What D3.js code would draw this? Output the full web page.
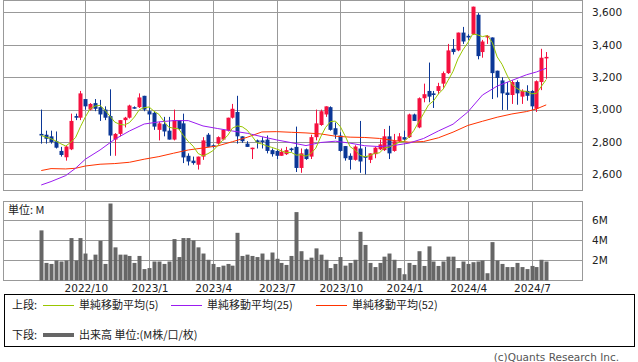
<!DOCTYPE html>
<html>
<head>
<meta charset="utf-8">
<script src="https://cdn.jsdelivr.net/npm/d3@7"></script>
<style>
	body{margin:0;background:#fff;}
	svg{display:block;}
	text{font-family:'DejaVu Sans',sans-serif;}
	.jp{font-family:'Noto Sans CJK JP',sans-serif;}
</style>
</head>
<body>
<script>
// weekly candles, index 0 = first week shown
var open  = [2850,2845,2835,2805,2745,2706,2755,2960,2950,3065,3000,3040,3015,3000,2960,2815,2850,2935,2950,3015,
			 3015,3085,2990,2980,2875,2910,2870,2815,2935,2915,2715,2685,2660,2710,2845,2780,2790,2815,2870,2950,
			 2985,2835,2790,2760,2810,2810,2815,2750,2745,2715,2725,2760,2770,2640,2755,2710,2830,2905,2970,3015,
			 2885,2840,2775,2715,2690,2760,2712,2690,2725,2755,2750,2835,2745,2805,2830,2830,2970,2890,3070,3115,
			 3100,3115,3160,3225,3375,3365,3475,3455,3465,3585,3355,3445,3445,3240,3180,3105,3090,3170,3080,3115,
			 3115,3005,3170,3320];
var high  = [3000,2870,2870,2865,2770,2775,2975,2975,3115,3065,3040,3065,3060,3020,3125,2855,2935,2955,3030,3020,
			 3100,3085,3015,2990,2925,2955,2955,3000,2935,2975,2730,2710,2710,2830,2855,2785,2835,2875,2950,3035,
			 3085,2835,2805,2765,2815,2830,2840,2760,2750,2760,2770,2765,2895,2760,2760,2845,3000,3000,3020,3020,
			 2920,2860,2775,2730,2780,2930,2770,2730,2770,2815,2880,2900,2850,2855,2870,2975,2975,3075,3160,3290,
			 3115,3165,3235,3405,3435,3475,3510,3465,3635,3595,3430,3460,3445,3240,3200,3170,3180,3180,3125,3150,
			 3120,3180,3375,3355];
var low   = [2790,2790,2790,2760,2710,2685,2750,2935,2935,3000,2995,2990,2930,2935,2715,2715,2835,2890,2945,3005,
			 3010,2990,2935,2875,2810,2835,2815,2810,2875,2670,2655,2660,2630,2690,2770,2765,2785,2810,2865,2945,
			 2790,2795,2770,2695,2760,2760,2730,2710,2695,2715,2720,2740,2615,2610,2690,2695,2810,2900,2955,2870,
			 2820,2740,2685,2630,2685,2610,2600,2670,2700,2750,2745,2695,2740,2800,2810,2825,2930,2885,3045,3045,
			 3010,3095,3135,3220,3340,3360,3405,3430,3460,3310,3320,3405,3065,3075,2998,2998,3035,3030,3035,3055,
			 2995,2985,3120,3190];
var close = [2840,2820,2800,2765,2720,2772,2930,2950,3100,3020,3035,3005,2970,2950,2840,2850,2935,2950,3025,3010,
			 3075,3000,2970,2895,2915,2865,2815,2935,2880,2705,2680,2670,2710,2810,2770,2770,2830,2875,2950,3005,
			 2835,2805,2770,2765,2800,2800,2745,2725,2715,2740,2750,2750,2640,2730,2695,2830,2915,2990,3020,2875,
			 2845,2745,2700,2690,2772,2680,2705,2730,2765,2785,2835,2730,2805,2835,2815,2970,2930,3070,3095,3080,
			 3090,3145,3225,3365,3355,3475,3420,3445,3635,3330,3420,3455,3225,3195,3100,3090,3170,3100,3115,3085,
			 3020,3175,3320,3325];
// volume, millions
var volume = [4.96,1.74,1.64,1.98,1.88,1.98,4.2,1.98,4.2,2.67,2.05,2.56,3.93,1.64,7.62,3.28,2.56,2.56,2.43,1.74,
			  2.43,1.13,1.23,1.88,1.88,1.64,1.88,4.1,2.32,4.2,4.2,3.97,3.28,2.67,2.05,1.64,1.33,1.47,1.64,1.47,
			  4.72,2.43,2.56,2.43,2.32,2.67,2.05,2.77,2.15,1.74,1.54,2.43,6.77,2.9,2.05,2.26,3.18,2.56,2.05,1.23,
			  1.64,2.32,1.47,1.74,2.05,4.82,3.52,1.74,1.33,1.74,2.36,2.67,2.05,1.23,0.62,1.74,1.54,2.9,1.44,3.38,
			  1.88,1.44,1.88,2.36,2.36,1.23,1.88,1.64,1.81,1.88,1.98,0.72,3.8,1.98,1.64,1.33,1.33,1.74,1.33,1.13,
			  1.44,1.33,2.05,1.88];
// moving averages at these weeks
var maIndex = [0,2,5,7,9,12,15,18,21,24,27,30,33,36,39,42,45,48,51,54,57,60,63,66,69,72,75,78,81,84,87,90,93,96,99,101,103];
var ma25 = [2535,2556,2593,2638,2694,2751,2817,2868,2911,2924,2932,2932,2899,2883,2868,2854,2833,2813,2796,2778,2797,2805,2793,2777,2772,2779,2793,2822,2868,2910,2985,3090,3145,3180,3215,3232,3255];
var ma52 = [2624,2636,2634,2638,2652,2663,2667,2675,2694,2710,2731,2751,2763,2776,2802,2829,2862,2864,2860,2856,2850,2836,2830,2828,2822,2809,2799,2803,2826,2861,2902,2928,2953,2973,2988,3004,3029];

var tickLabels = ['2022/10','2023/1','2023/4','2023/7','2023/10','2024/1','2024/4','2024/7'];
var tickIndex = [9,22,35,48,61,74,87,100];
var priceTicks = [2600,2800,3000,3200,3400,3600];
var volTicks = [2,4,6];

var width = 638, height = 362;
var left = 3, right = 582;
var gridColor = '#999';
var upColor = '#f5103f', downColor = '#0b3796';

var svg = d3.select('body').append('svg')
			.attr('width',width)
			.attr('height',height);

var x = d3.scaleLinear().domain([-7.8,110.3]).range([left,right]);
var y = d3.scaleLinear().domain([2504,3676]).range([190,0]);
var yv = d3.scaleLinear().domain([0,7.8]).range([280.5,201.7]);

// MA5 from closes (first weeks use what is available)
var ma5 = close.map(function(c,i){
	return d3.mean(close.slice(Math.max(0,i-4),i+1));
});

function grid(top,bottom,yTicks,ys){
	var g = svg.append('g');
	g.selectAll('line.h')
		.data(yTicks)
		.enter().append('line')
		.attr('x1',left).attr('x2',right)
		.attr('y1',d=>Math.round(ys(d))+0.5)
		.attr('y2',d=>Math.round(ys(d))+0.5)
		.attr('stroke',gridColor);
	g.selectAll('line.v')
		.data(tickIndex)
		.enter().append('line')
		.attr('x1',d=>Math.round(x(d))+0.5)
		.attr('x2',d=>Math.round(x(d))+0.5)
		.attr('y1',top).attr('y2',bottom)
		.attr('stroke',gridColor);
	g.append('rect')
		.attr('x',left+0.5).attr('y',top+0.5)
		.attr('width',right-left).attr('height',bottom-top)
		.attr('fill','none')
		.attr('stroke',gridColor);
}

grid(0,190,priceTicks,y);
grid(201,280,volTicks,yv);

// candles
var candles = svg.append('g')
				.selectAll('g')
				.data(close)
				.enter()
				.append('g');
candles.append('line')
	.attr('x1',(d,i)=>Math.round(x(i))+0.5)
	.attr('x2',(d,i)=>Math.round(x(i))+0.5)
	.attr('y1',(d,i)=>y(high[i]))
	.attr('y2',(d,i)=>y(low[i]))
	.attr('stroke',(d,i)=>close[i]>=open[i] ? upColor : downColor);
candles.append('rect')
	.attr('x',(d,i)=>Math.round(x(i))-1.5)
	.attr('width',4)
	.attr('y',(d,i)=>y(Math.max(open[i],close[i])))
	.attr('height',(d,i)=>Math.max(1.5,Math.abs(y(open[i])-y(close[i]))))
	.attr('fill',(d,i)=>close[i]>=open[i] ? upColor : downColor);

// moving averages
var line = d3.line().x(d=>x(d[0])).y(d=>y(d[1]));
svg.append('path')
	.attr('d',line(maIndex.map((d,i)=>[d,ma52[i]])))
	.attr('fill','none').attr('stroke','#ff3300').attr('stroke-width',1);
svg.append('path')
	.attr('d',line(maIndex.map((d,i)=>[d,ma25[i]])))
	.attr('fill','none').attr('stroke','#9b1cf0').attr('stroke-width',1);
svg.append('path')
	.attr('d',line(ma5.map((d,i)=>[i,d])))
	.attr('fill','none').attr('stroke','#99c600').attr('stroke-width',1);

// volume
svg.append('g')
	.selectAll('rect')
	.data(volume)
	.enter()
	.append('rect')
	.attr('x',(d,i)=>Math.round(x(i))-1.5)
	.attr('width',4)
	.attr('y',d=>yv(d))
	.attr('height',d=>yv(0)-yv(d))
	.attr('fill','#666');

// right axis labels
svg.append('g')
	.selectAll('text')
	.data(priceTicks)
	.enter().append('text')
	.attr('x',592)
	.attr('y',d=>y(d))
	.attr('dy','0.36em')
	.attr('font-size',10.5)
	.attr('fill','#222')
	.text(d3.format(','));
svg.append('g')
	.selectAll('text')
	.data(volTicks)
	.enter().append('text')
	.attr('x',592)
	.attr('y',d=>yv(d))
	.attr('dy','0.36em')
	.attr('font-size',10.5)
	.attr('fill','#222')
	.text(d=>d+'M');

// date labels
svg.append('g')
	.selectAll('text')
	.data(tickLabels)
	.enter().append('text')
	.attr('x',(d,i)=>x(tickIndex[i])+1)
	.attr('y',292)
	.attr('text-anchor','middle')
	.attr('font-size',10.5)
	.attr('fill','#222')
	.text(d=>d);

svg.append('text')
	.attr('class','jp')
	.attr('x',8).attr('y',214)
	.attr('font-size',11)
	.attr('fill','#222')
	.text('単位: M');

// legend
var legend = svg.append('g');
legend.append('rect')
	.attr('x',4.5).attr('y',294.5)
	.attr('width',630).attr('height',52)
	.attr('fill','none').attr('stroke','#000');
var items = [['単純移動平均(5)','#99c600',43],['単純移動平均(25)','#9b1cf0',171],['単純移動平均(52)','#ff3300',316]];
legend.append('text').attr('class','jp').attr('x',12).attr('y',309).attr('font-size',11).attr('fill','#222').text('上段:');
items.forEach(function(it){
	legend.append('line')
		.attr('x1',it[2]).attr('x2',it[2]+31)
		.attr('y1',305.5).attr('y2',305.5)
		.attr('stroke',it[1]);
	legend.append('text').attr('class','jp')
		.attr('x',it[2]+36).attr('y',309)
		.attr('font-size',11).attr('fill','#222')
		.text(it[0]);
});
legend.append('text').attr('class','jp').attr('x',12).attr('y',339).attr('font-size',11).attr('fill','#222').text('下段:');
legend.append('line')
	.attr('x1',43).attr('x2',74)
	.attr('y1',335).attr('y2',335)
	.attr('stroke','#666').attr('stroke-width',4);
legend.append('text').attr('class','jp')
	.attr('x',79).attr('y',339)
	.attr('font-size',11).attr('fill','#222')
	.text('出来高 単位:(M株/口/枚)');

svg.append('text')
	.attr('x',619).attr('y',361)
	.attr('text-anchor','end')
	.attr('font-size',10.5)
	.attr('fill','#555')
	.text('(c)Quants Research Inc.');
</script>
</body>
</html>
